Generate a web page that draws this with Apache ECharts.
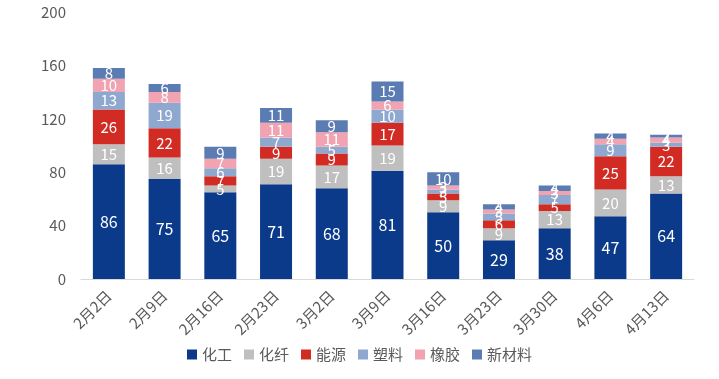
<!DOCTYPE html>
<html><head><meta charset="utf-8">
<script src="https://cdn.jsdelivr.net/npm/echarts@6/dist/echarts.min.js"></script>
<style>html,body{margin:0;padding:0;background:#fff}#c{width:719px;height:379px}</style>
</head><body><div id="c"></div>
<script>
const categories = ['2月2日','2月9日','2月16日','2月23日','3月2日','3月9日','3月16日','3月23日','3月30日','4月6日','4月13日'];
const huagong   = [86, 75, 65, 71, 68, 81, 50, 29, 38, 47, 64];
const huaxian   = [15, 16, 5, 19, 17, 19, 9, 9, 13, 20, 13];
const nengyuan  = [26, 22, 7, 9, 9, 17, 5, 6, 5, 25, 22];
const suliao    = [13, 19, 6, 7, 5, 10, 3, 5, 7, 9, 3];
const xiangjiao = [10, 8, 7, 11, 11, 6, 3, 3, 3, 4, 4];
const xincailiao= [8, 6, 9, 11, 9, 15, 10, 4, 4, 4, 2];
const yTicks = [0, 40, 80, 120, 160, 200];

const names = ['化工','化纤','能源','塑料','橡胶','新材料'];
const datas = [huagong, huaxian, nengyuan, suliao, xiangjiao, xincailiao];
const colors = ['#0b3a8a','#bfbfbf','#d22b24','#8ea8d0','#f1a3b1','#5b7cb3'];
const font = '"Noto Sans CJK SC", "Noto Sans", sans-serif';

const chart = echarts.init(document.getElementById('c'));
chart.setOption({
  animation: false,
  color: colors,
  textStyle: { fontFamily: font },
  grid: { left: 81, right: 25, top: 12, bottom: 100 },
  legend: {
    bottom: 12, left: 'center', itemWidth: 10, itemHeight: 10, itemGap: 12,
    icon: 'rect',
    textStyle: { color: '#595959', fontSize: 15, fontFamily: font },
    data: names
  },
  xAxis: {
    type: 'category', data: categories,
    axisLine: { lineStyle: { color: '#d9d9d9' } },
    axisTick: { show: false },
    axisLabel: { rotate: 45, color: '#595959', fontSize: 15, margin: 14, interval: 0, fontFamily: font }
  },
  yAxis: {
    type: 'value', min: yTicks[0], max: yTicks[yTicks.length-1], interval: 40,
    axisLine: { show: false }, axisTick: { show: false },
    splitLine: { show: false },
    axisLabel: { color: '#595959', fontSize: 15, margin: 15, fontFamily: font }
  },
  series: names.map((n, i) => ({
    name: n, type: 'bar', stack: 'total', barWidth: 32,
    data: datas[i],
    label: { show: true, position: 'inside', color: '#fff', fontSize: i === 0 ? 16 : 15, fontFamily: font }
  }))
});
</script></body></html>
